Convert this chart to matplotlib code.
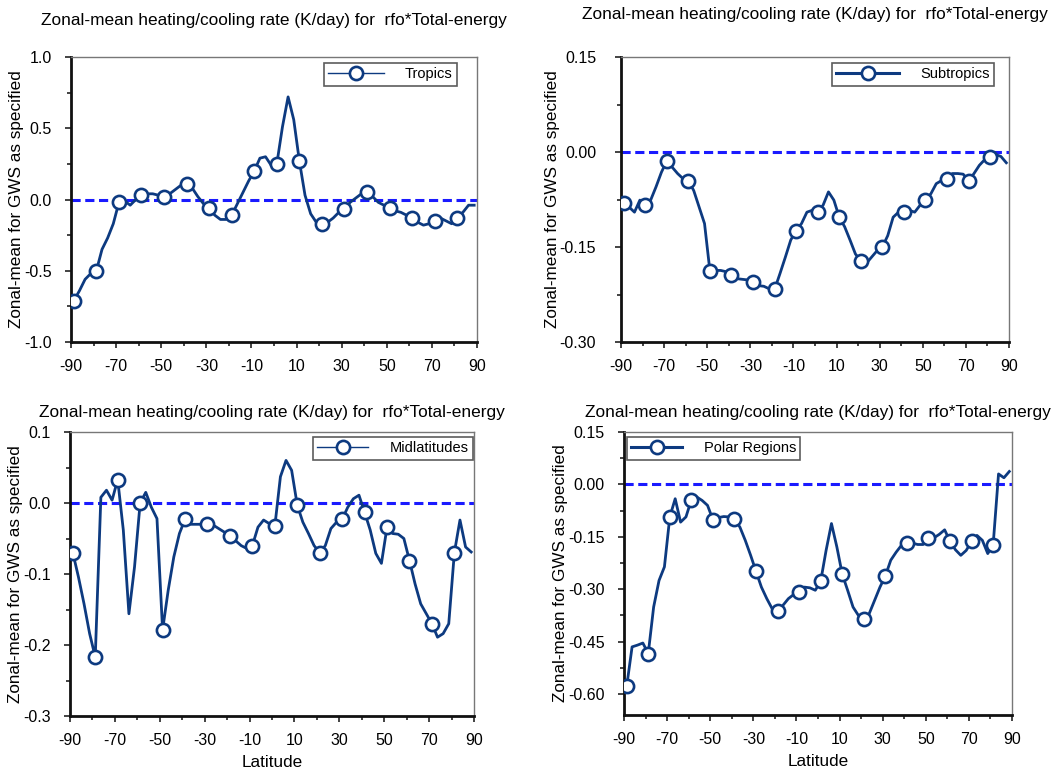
import numpy as np
import matplotlib.pyplot as plt
from matplotlib.ticker import MultipleLocator, FormatStrFormatter

plt.rcParams['font.family'] = ['Liberation Sans', 'DejaVu Sans']
plt.rcParams['axes.unicode_minus'] = False

# latitude grid (2.5 deg band centres), markers every 4th point
lat = np.arange(-88.75, 89.0, 2.5)

tropics = [
    -0.71, -0.64, -0.56, -0.52, -0.50, -0.35, -0.27, -0.17,
    -0.02, -0.01, -0.04, 0.00, 0.03, 0.04, 0.04, 0.03,
    0.02, 0.04, 0.07, 0.10, 0.11, 0.08, 0.02, -0.03,
    -0.06, -0.11, -0.14, -0.14, -0.11, -0.03, 0.05, 0.13,
    0.20, 0.29, 0.30, 0.24, 0.25, 0.51, 0.72, 0.56,
    0.27, 0.03, -0.10, -0.16, -0.17, -0.16, -0.13, -0.09,
    -0.07, -0.02, 0.01, 0.04, 0.05, 0.02, -0.02, -0.04,
    -0.06, -0.08, -0.09, -0.11, -0.13, -0.16, -0.18, -0.17,
    -0.15, -0.13, -0.15, -0.17, -0.13, -0.09, -0.04, -0.04]

subtropics = [
    -0.081, -0.087, -0.095, -0.076, -0.084, -0.076, -0.055, -0.032,
    -0.014, -0.024, -0.034, -0.042, -0.045, -0.061, -0.087, -0.113,
    -0.188, -0.187, -0.187, -0.189, -0.194, -0.200, -0.201, -0.202,
    -0.205, -0.211, -0.212, -0.216, -0.217, -0.192, -0.166, -0.139,
    -0.124, -0.113, -0.095, -0.092, -0.094, -0.084, -0.063, -0.076,
    -0.103, -0.118, -0.139, -0.161, -0.172, -0.176, -0.166, -0.156,
    -0.150, -0.132, -0.103, -0.095, -0.094, -0.092, -0.095, -0.084,
    -0.075, -0.066, -0.050, -0.045, -0.042, -0.034, -0.034, -0.035,
    -0.046, -0.034, -0.021, -0.012, -0.008, -0.004, -0.007, -0.017]

midlatitudes = [
    -0.070, -0.104, -0.142, -0.184, -0.217, 0.008, 0.018, 0.004,
    0.033, -0.038, -0.156, -0.090, 0.000, 0.015, -0.006, -0.022,
    -0.179, -0.123, -0.076, -0.043, -0.023, -0.030, -0.030, -0.030,
    -0.030, -0.031, -0.036, -0.041, -0.046, -0.053, -0.060, -0.064,
    -0.060, -0.034, -0.024, -0.029, -0.033, 0.037, 0.060, 0.046,
    -0.003, -0.027, -0.043, -0.060, -0.070, -0.060, -0.036, -0.027,
    -0.023, -0.006, 0.006, 0.011, -0.013, -0.038, -0.071, -0.085,
    -0.034, -0.043, -0.044, -0.050, -0.081, -0.114, -0.142, -0.156,
    -0.170, -0.189, -0.184, -0.170, -0.070, -0.024, -0.062, -0.069]

polar = [
    -0.578, -0.465, -0.460, -0.454, -0.484, -0.351, -0.275, -0.236,
    -0.093, -0.041, -0.108, -0.093, -0.044, -0.036, -0.046, -0.060,
    -0.101, -0.095, -0.092, -0.093, -0.100, -0.122, -0.160, -0.203,
    -0.249, -0.294, -0.327, -0.356, -0.362, -0.346, -0.327, -0.315,
    -0.308, -0.294, -0.296, -0.303, -0.277, -0.189, -0.112, -0.179,
    -0.257, -0.303, -0.351, -0.375, -0.385, -0.370, -0.332, -0.294,
    -0.262, -0.217, -0.194, -0.174, -0.168, -0.168, -0.172, -0.172,
    -0.153, -0.153, -0.143, -0.130, -0.163, -0.187, -0.203, -0.189,
    -0.163, -0.146, -0.160, -0.198, -0.173, 0.030, 0.019, 0.037]

title = 'Zonal-mean heating/cooling rate (K/day) for  rfo*Total-energy'
ylab = 'Zonal-mean for GWS as specified'
navy = '#0d3a80'

W, H = 1060, 770
fig = plt.figure(figsize=(W / 100, H / 100), dpi=100)

# per panel: name, data, axes box px (l, t, r, b), ylim, y ticks, minor step, tick format,
# y tick pad, title y, legend loc + anchor px, legend line width, handle length
panels = [
    dict(name='Tropics', vals=tropics, box=(71, 57, 477, 342), ylim=(-1.0, 1.0),
         yt=[-1.0, -0.5, 0.0, 0.5, 1.0], mnr=0.25, fmt='%.1f', ypad=10,
         ty=20, loc='upper right', anchor=(457, 63), llw=1.0, hl=3.8, xlab=False),
    dict(name='Subtropics', vals=subtropics, box=(621, 57, 1009, 342), ylim=(-0.30, 0.15),
         yt=[-0.30, -0.15, 0.0, 0.15], mnr=0.075, fmt='%.2f', ypad=14,
         ty=15, loc='upper right', anchor=(994, 63), llw=2.2, hl=4.3, xlab=False),
    dict(name='Midlatitudes', vals=midlatitudes, box=(70, 432, 474, 716), ylim=(-0.3, 0.1),
         yt=[-0.3, -0.2, -0.1, 0.0, 0.1], mnr=0.05, fmt='%.1f', ypad=10,
         ty=413, loc='upper right', anchor=(473, 437), llw=1.0, hl=3.5, xlab=True),
    dict(name='Polar Regions', vals=polar, box=(624, 432, 1012, 715), ylim=(-0.66, 0.15),
         yt=[-0.60, -0.45, -0.30, -0.15, 0.0, 0.15], mnr=0.075, fmt='%.2f', ypad=10,
         ty=413, loc='upper left', anchor=(627, 437), llw=2.2, hl=3.5, xlab=True),
]

for p in panels:
    l, t, r, b = p['box']
    ax = fig.add_axes([l / W, 1 - b / H, (r - l) / W, (b - t) / H])
    ax.plot(lat, p['vals'], color=navy, lw=2.0, zorder=3)
    ax.plot(lat[::4], np.asarray(p['vals'])[::4], 'o', ms=9.5, mfc='white', mec=navy,
            mew=1.9, zorder=4)
    ax.axhline(0, color='#1a1aff', lw=2.2, ls=(0, (3, 1.5)), zorder=2)

    ax.set_xlim(-90, 90)
    ax.set_ylim(*p['ylim'])
    ax.set_xticks(np.arange(-90, 91, 20))
    ax.xaxis.set_minor_locator(MultipleLocator(10))
    ax.set_yticks(p['yt'])
    ax.yaxis.set_minor_locator(MultipleLocator(p['mnr']))
    ax.yaxis.set_major_formatter(FormatStrFormatter(p['fmt']))
    ax.tick_params(which='both', direction='out', color='#222222', width=1.2)
    ax.tick_params(which='major', length=4, labelsize=11.5)
    ax.tick_params(which='minor', length=3)
    ax.tick_params(axis='x', which='major', pad=8)
    ax.tick_params(axis='y', which='major', pad=p['ypad'])

    for s in ('left', 'bottom'):
        ax.spines[s].set_linewidth(2.0)
        ax.spines[s].set_color('#111111')
    for s in ('top', 'right'):
        ax.spines[s].set_linewidth(1.0)
        ax.spines[s].set_color('#777777')

    ax.set_ylabel(ylab, fontsize=12.3, labelpad=0)
    if p['xlab']:
        ax.set_xlabel('Latitude', fontsize=12.3, labelpad=5)

    fig.text((l + r) / 2 / W, 1 - p['ty'] / H, title, ha='center', va='center',
             fontsize=12.4)

    h, = ax.plot([], [], color=navy, lw=p['llw'], marker='o', ms=9.5, mfc='white',
                 mec=navy, mew=1.9)
    ax_x, ax_y = p['anchor']
    leg = ax.legend([h], [p['name']], loc=p['loc'], fontsize=10.5, frameon=True,
                    fancybox=False, handlelength=p['hl'], handletextpad=1.45,
                    borderpad=0.3, borderaxespad=0,
                    bbox_to_anchor=(ax_x / W, 1 - ax_y / H), bbox_transform=fig.transFigure)
    leg.get_frame().set_edgecolor('#333333')
    leg.get_frame().set_linewidth(1.2)

fig.savefig('out.png', dpi=100)
